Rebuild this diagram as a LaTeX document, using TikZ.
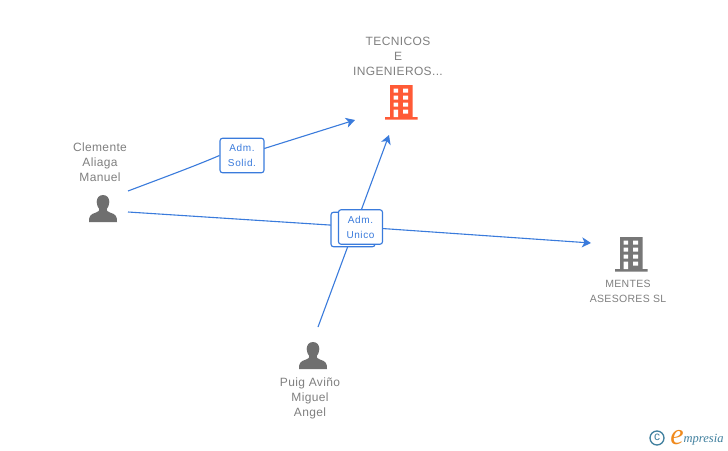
\documentclass[tikz,border=0pt]{standalone}
\usepackage{fontspec}
\setmainfont{Liberation Sans}
\newfontfamily\logofont{Liberation Serif}
\usetikzlibrary{arrows.meta}
\definecolor{linkblue}{HTML}{3A7BDC}
\definecolor{labelgrey}{HTML}{808080}
\definecolor{icongrey}{HTML}{6F6F6F}
\definecolor{towergrey}{HTML}{777777}
\definecolor{towerorange}{HTML}{FF5A36}
\definecolor{logoteal}{HTML}{3F7F9E}
\definecolor{logoorange}{HTML}{F08A1D}
\tikzset{
  caption/.style={text=labelgrey,align=center,inner sep=0pt,font=\fontsize{12}{15}\selectfont\addfontfeatures{LetterSpace=3}},
  smallcaption/.style={text=labelgrey,align=center,inner sep=0pt,font=\fontsize{10.5}{15}\selectfont\addfontfeatures{LetterSpace=3}},
  link/.style={draw=linkblue,line width=1.1pt},
  linkarrow/.style={link,-{Stealth[length=9pt,width=10pt,inset=2.5pt]}},
  rolebox/.style={draw=linkblue,line width=1.1pt,fill=white,rounded corners=2.5pt,text=linkblue,align=center,inner sep=0pt,minimum width=44pt,minimum height=34.5pt,font=\fontsize{10}{15}\selectfont\addfontfeatures{LetterSpace=6}}
}
\newcommand{\personicon}[2]{%
  \fill[icongrey,shift={(#1,#2)}] (0,-20) .. controls (-4,-20) and (-6.3,-17) .. (-6.3,-13)
    .. controls (-6.3,-10) and (-5.2,-8) .. (-3.8,-6) .. controls (-3.8,-4) and (-4,-3.5) .. (-7,-2.5)
    .. controls (-13,-0.5) and (-14,1) .. (-14,7) -- (14,7)
    .. controls (14,1) and (13,-0.5) .. (7,-2.5) .. controls (4,-3.5) and (3.8,-4) .. (3.8,-6)
    .. controls (5.2,-8) and (6.3,-10) .. (6.3,-13) .. controls (6.3,-17) and (4,-20) .. (0,-20) -- cycle;}
\newcommand{\towericon}[3]{%
  \begin{scope}[shift={(#1,#2)}]
    \fill[#3] (0,0) rectangle (22.5,32) (-5,32) rectangle (27.5,34.5);
    \fill[white] (3.5,3.5) rectangle (8,7.5) (13,3.5) rectangle (18,7.5)
      (3.5,10.5) rectangle (8,14.5) (13,10.5) rectangle (18,14.5)
      (3.5,17.5) rectangle (8,21.5) (13,17.5) rectangle (18,21.5)
      (3.5,24.5) rectangle (8,32) (13,24.5) rectangle (18,28.5);
  \end{scope}}
\begin{document}
\begin{tikzpicture}[x=1pt,y=-1pt]
\useasboundingbox (0,0) rectangle (728,450);
\fill[white] (0,0) rectangle (728,450);
% free ends of connectors
\coordinate (clemA) at (128,191);
\coordinate (clemB) at (128,212);
\coordinate (puigS) at (318,327);
\coordinate (tecA) at (355,120);
\coordinate (tecB) at (389,135);
\coordinate (mentes) at (591,243);
% label boxes (positions only; drawn after the connectors)
\path (242,155.5) node[rolebox,draw=none,fill=none,text opacity=0] (solid) {Adm.\\Solid.};
\path (360.5,227) node[rolebox,draw=none,fill=none,text opacity=0] (unico) {Adm.\\Unico};
% connectors
\draw[link] (clemA) .. controls (165,177) and (195,166) .. (solid.west);
\draw[linkarrow] (solid.center) -- (tecA);
\draw[link] (clemB) -- (unico);
\draw[linkarrow] (unico) -- (mentes);
\draw[linkarrow] (puigS) -- (tecB);
% boxes
\node[rolebox] (solidbox) at (solid) {Adm.\\Solid.};
\node[rolebox] (unicoback) at (353,229.5) {};
\node[rolebox] (unicobox) at (unico) {Adm.\\Unico};
% icons
\towericon{390}{85}{towerorange}
\towericon{620}{237}{towergrey}
\personicon{103}{215}
\personicon{313}{362}
% captions
\node[caption] (tecnicos) at (398,56) {TECNICOS\\E\\INGENIEROS...};
\node[caption] (clemente) at (100,162) {Clemente\\Aliaga\\Manuel};
\node[caption] (puig) at (310,398) {Puig Aviño\\Miguel\\Angel};
\node[smallcaption] (mentescap) at (628,291) {MENTES\\ASESORES SL};
% logo
\draw[logoteal,line width=1.3pt] (657,438) circle (7);
\node[text=logoteal,inner sep=0pt,font=\fontsize{12}{12}\selectfont] (copy) at (657,437.5) {c};
\node[text=logoorange,inner sep=0pt,font=\logofont\itshape\fontsize{30}{30}\selectfont] (logoe) at (677,438) {e};
\node[text=logoteal,inner sep=0pt,anchor=base west,font=\logofont\itshape\fontsize{12.5}{12.5}\selectfont] (logotext) at (683.5,442) {mpresia};
\end{tikzpicture}
\end{document}
